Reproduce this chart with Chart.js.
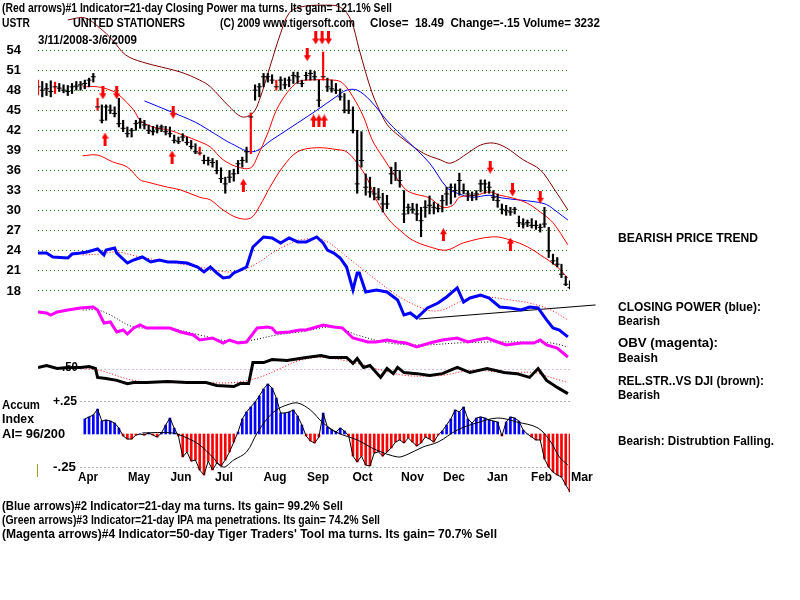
<!DOCTYPE html>
<html>
<head>
<meta charset="utf-8">
<script src="https://cdn.jsdelivr.net/npm/chart.js@4.4.0/dist/chart.umd.min.js"></script>
<style>
  html, body { margin: 0; padding: 0; background: #fff; }
  canvas { display: block; }
</style>
</head>
<body>
<canvas id="tiger" width="800" height="600"></canvas>
<script>
// ---- price bars (one bar every 2 trading days, 3/11/2008 .. 3/6/2009)
const BAR_STEP = 2;
const priceHigh = [49.5,49.3,49.0,49.4,49.2,49.0,48.8,48.7,49.0,49.3,49.3,49.5,49.8,50.5,46.8,45.8,45.8,45.8,45.5,46.8,
  43.5,42.5,42.3,43.5,43.8,43.5,42.8,42.6,42.8,42.8,42.6,42.5,41.3,41.0,41.5,41.0,40.5,40.0,39.5,38.3,
  38.0,37.8,37.5,36.4,35.0,36.0,36.2,37.5,38.0,39.5,44.6,48.8,49.0,50.5,50.5,50.3,49.5,50.0,49.8,50.0,
  50.7,50.7,49.5,50.7,51.0,50.8,49.5,53.7,49.8,49.5,49.0,48.2,47.5,46.5,45.5,42.0,41.8,35.5,35.0,33.5,
  33.3,32.6,32.3,36.5,37.2,36.0,33.0,31.0,31.1,31.0,30.5,31.5,32.2,31.3,31.0,32.3,33.5,34.0,34.0,35.6,
  34.0,33.0,32.8,33.0,34.6,34.6,34.3,33.0,32.5,31.0,30.8,30.5,30.5,29.2,28.8,28.6,28.8,28.5,28.0,30.5,
  27.5,23.5,23.0,22.0,20.2,19.5];
const priceLow = [47.3,47.0,47.2,47.0,47.5,47.8,47.6,47.2,47.5,48.0,48.0,48.2,48.5,49.2,45.0,43.1,43.5,44.5,44.0,42.5,
  41.8,41.0,41.0,42.0,42.3,42.2,41.5,41.3,41.6,41.8,41.3,41.0,40.1,40.0,40.4,39.8,39.2,38.5,38.3,37.0,
  36.8,36.5,35.5,34.2,32.6,34.2,34.4,35.5,36.5,37.2,38.5,46.5,47.0,48.5,49.2,49.0,48.0,48.0,48.2,48.5,
  49.0,49.0,48.5,49.5,49.5,49.5,45.5,49.5,47.8,47.7,47.5,46.5,44.6,44.5,41.6,32.6,36.5,32.3,32.0,31.6,
  31.6,29.8,30.3,34.0,34.5,33.5,28.2,29.5,29.6,28.5,26.1,29.0,29.5,29.5,29.8,29.8,30.8,31.0,32.0,32.3,
  32.5,31.5,31.5,31.6,32.8,32.6,32.6,31.5,30.5,29.5,29.3,29.3,29.5,27.6,27.4,27.6,27.4,27.2,26.8,27.5,
  23.0,22.0,21.6,20.0,18.8,18.3];
const priceClose = [48.5,48.0,48.2,47.8,48.5,48.3,48.0,47.8,48.5,48.6,48.8,49.0,49.5,50.0,45.5,43.5,45.5,45.0,44.5,43.0,
  42.3,41.5,42.0,43.0,43.2,42.8,42.0,41.8,42.2,42.5,41.8,41.5,40.5,40.3,41.0,40.2,39.6,38.8,38.6,37.5,
  37.5,37.2,36.0,34.8,34.0,35.0,35.5,37.0,37.5,38.8,44.0,48.0,48.5,50.0,50.0,49.5,48.5,49.5,48.8,49.5,
  50.2,50.0,49.0,50.2,50.5,50.0,46.5,50.0,48.5,48.2,48.0,47.0,45.0,45.0,42.0,34.0,37.5,33.5,32.8,32.5,
  32.0,31.0,31.0,35.5,36.0,34.5,29.5,30.5,30.2,29.5,28.5,30.5,30.8,30.5,30.3,31.5,32.5,33.5,33.0,34.5,
  33.0,32.5,32.3,32.5,34.0,34.0,33.5,32.0,31.5,30.2,30.0,29.8,30.2,28.2,28.0,28.2,27.8,27.8,27.5,28.0,
  24.0,22.5,22.0,20.5,19.0,18.49];
const redBarIdx = [0, 4, 14, 38, 50, 56, 67];

// ---- bands on the price panel
const maDays = [21,28,34,38,45,48,54,62,68,76,81,87,94,100,103,108,112,117,122,126,139,143,148,153,157,162,172,176,184,190,195,198,206,212,217,223,230,236,242,249];
const maVals = [48.5,48.5,48.0,47.3,45.0,43.5,42.5,42.0,41.3,40.3,39.5,37.6,36.5,36.4,38.0,41.6,45.0,47.6,49.2,49.5,49.5,49.1,47.0,44.0,40.6,38.0,33.4,32.6,31.9,30.5,30.8,32.0,32.3,32.8,32.3,31.9,31.1,29.8,28.2,24.9];
const upperDays = [14,22,29,35,41,49,67,76,81,90,96,101,104,109,114,118,123,134,142,147,151,157,162,165,172,181,189,194,202,208,214,220,228,236,242,249];
const upperVals = [58.5,58.8,57.3,55.5,53.3,52.2,50.7,49.5,48.5,45.5,44.0,44.6,46.5,51.5,56.5,59.5,60.4,60.7,60.4,58.5,54.0,47.6,44.0,42.5,40.6,38.6,37.6,37.1,38.6,39.8,40.1,39.4,37.6,36.1,33.5,30.1];
const lowerDays = [21,28,35,42,48,51,61,67,76,81,87,94,100,104,109,115,122,131,141,145,150,155,159,165,170,176,184,192,200,214,222,230,236,244,249];
const lowerVals = [38.2,38.3,37.3,36.5,34.6,34.3,33.5,33.1,32.0,31.6,30.1,28.9,28.9,30.6,33.5,36.5,38.8,39.4,39.1,38.8,37.1,34.6,31.6,28.6,27.1,25.6,24.6,24.1,25.2,26.1,25.6,24.6,23.4,21.6,19.9];
const ma50Days = [50,63,74,83,91,101,110,122,131,140,145,150,156,165,173,184,192,197,204,212,218,226,234,239,244,249];
const ma50Vals = [46.4,44.7,43.2,41.5,40.0,38.8,40.6,43.1,45.0,47.0,48.0,48.0,46.5,43.1,40.6,37.1,33.5,32.6,32.0,32.3,31.9,31.6,31.3,30.9,29.8,28.6];

// ---- signal arrows
const downArrowDays = [30.5,37,63.5,126.5,130.5,133.5,136.5,212.5,223,236];
const downArrowVals = [47.6,47.6,44.7,53.3,55.8,55.8,55.8,36.5,33.1,32.0];
const upArrowDays = [31.5,63,96.5,129.5,132,134.5,190.5,222];
const upArrowVals = [40.7,38.0,33.8,43.4,43.4,43.4,26.4,25.0];

// ---- closing power (drawn on the price scale)
const cpDays = [0,4,7,14,16,20,23,28,31,32,36,37,42,45,49,53,57,61,65,70,75,78,81,84,87,90,92,95,98,101,106,110,114,118,122,126,131,134,136,139,142,145,148,150,151,154,159,164,169,172,175,178,183,188,192,197,200,203,208,212,217,222,227,231,235,239,242,245,249];
const cpVals = [23.67,23.67,23.08,22.93,23.52,23.67,23.82,24.27,23.38,24.12,24.42,23.67,22.18,22.63,23.08,22.33,22.63,22.33,22.33,22.18,21.58,20.84,21.58,20.69,19.94,20.09,20.69,21.13,21.58,24.57,26.07,25.92,25.17,25.92,25.32,25.32,26.07,25.17,24.12,23.67,22.93,21.58,18.15,20.69,20.69,17.85,18.15,17.85,16.65,14.41,14.71,13.96,15.46,16.20,17.10,18.45,16.35,16.95,17.40,16.95,15.61,15.46,15.16,15.61,15.46,13.67,12.47,12.17,11.13];
const cpMaDays = [21,29,37,48,61,76,89,96,104,110,117,123,134,147,159,170,183,190,197,203,211,222,231,241,249];
const cpMaVals = [23.38,23.52,23.82,23.08,22.33,21.58,20.84,21.13,22.33,23.67,24.87,25.62,25.62,22.63,19.64,17.10,15.16,15.16,16.20,16.95,17.10,16.65,16.20,15.16,13.67];
const trendDays = [179, 262];
const trendVals = [13.81, 15.91];

// ---- OBV
const obvDays = [0,4,6,9,14,20,26,28,31,34,37,40,42,45,48,51,57,62,67,73,76,82,87,90,94,98,103,108,110,112,118,123,126,134,139,143,148,155,159,164,169,173,178,184,190,197,202,206,211,216,220,227,233,236,239,244,249];
const obvVals = [4.8,4.7,4.5,4.8,5.0,5.2,5.3,5.0,3.7,3.8,2.8,3.0,2.6,3.2,3.5,3.2,3.2,3.2,2.8,2.5,2.0,2.2,1.7,2.0,1.7,1.8,3.2,3.3,3.2,2.7,2.8,3.0,3.0,3.5,3.3,3.2,2.2,1.8,1.8,2.0,1.8,1.7,1.3,1.7,2.0,2.2,1.8,2.0,2.2,1.8,1.5,1.7,1.7,2.0,1.5,1.2,0.3];
const obvMaDays = [21,28,34,45,61,76,92,101,112,123,139,150,165,181,197,212,228,241,249];
const obvMaVals = [5.0,5.0,4.5,3.3,3.2,2.5,1.8,2.0,2.5,2.8,3.3,2.5,1.7,1.5,1.7,1.8,1.8,1.7,1.3];

// ---- relative strength vs DJI
const rsDays = [0,4,9,14,20,24,27,28,32,37,42,45,51,61,70,79,84,92,95,99,101,106,110,117,123,126,133,137,145,148,150,153,156,161,164,167,169,172,178,184,190,197,203,211,219,225,231,235,239,244,249];
const rsVals = [0.504,0.511,0.500,0.504,0.504,0.507,0.500,0.467,0.463,0.456,0.444,0.448,0.448,0.452,0.448,0.448,0.437,0.433,0.444,0.444,0.522,0.522,0.533,0.530,0.537,0.541,0.548,0.541,0.541,0.519,0.537,0.504,0.511,0.467,0.500,0.481,0.504,0.485,0.481,0.474,0.481,0.504,0.485,0.500,0.485,0.481,0.467,0.500,0.456,0.430,0.407];
const rsMaDays = [21,29,45,61,76,92,104,115,123,134,150,162,173,189,204,220,233,241,249];
const rsMaVals = [0.500,0.493,0.456,0.448,0.448,0.448,0.467,0.504,0.530,0.541,0.519,0.493,0.474,0.474,0.493,0.485,0.485,0.467,0.448];

// ---- accumulation index (one value every 2 days from day 22)
const ACC_START = 22;
const accVals = [0.114,0.129,0.144,0.189,0.098,0.106,0.098,0.083,0.045,-0.015,-0.038,-0.038,-0.008,0,-0.008,0.008,-0.008,-0.023,0.008,0.068,
  0.121,0.045,-0.015,-0.174,-0.136,-0.205,-0.197,-0.273,-0.311,-0.205,-0.273,-0.220,-0.242,-0.197,-0.136,-0.061,0.015,0.114,0.167,0.205,
  0.242,0.288,0.341,0.379,0.348,0.273,0.159,0.159,0.167,0.182,0.136,0.068,-0.015,-0.053,-0.068,-0.023,0.159,0.053,0.030,0.015,
  0.045,0.023,-0.015,-0.167,-0.212,-0.167,-0.235,-0.242,-0.144,-0.136,-0.167,-0.136,-0.106,-0.061,-0.045,-0.068,-0.030,-0.061,-0.091,-0.068,
  -0.023,-0.038,-0.061,-0.008,0.023,0.068,0.114,0.182,0.167,0.205,0.114,0.083,0.121,0.129,0.121,0.106,0.098,0.091,-0.015,0.091,
  0.129,0.121,0.098,0.030,0,-0.023,-0.045,-0.045,-0.189,-0.250,-0.288,-0.311,-0.326,-0.386,-0.439];
const accMaDays = [49,63,70,76,82,87,92,98,103,108,112,117,122,128,134,141,150,159,169,173,181,188,197,206,216,225,235,241,245,249];
const accMaVals = [0.008,0.008,-0.030,-0.083,-0.174,-0.250,-0.197,-0.136,0.008,0.121,0.182,0.220,0.235,0.182,0.083,0.008,-0.045,-0.121,-0.174,-0.159,-0.098,-0.061,0.030,0.083,0.121,0.091,0.045,-0.061,-0.174,-0.235];

// ---- axes labels
const priceTicks = [18,21,24,27,30,33,36,39,42,45,48,51,54];
const monthLabels = ['Apr','May','Jun','Jul','Aug','Sep','Oct','Nov','Dec','Jan','Feb','Mar'];
const monthDays = [23.5,47.5,67.2,87.4,111.4,131.6,152.5,176.0,195.5,215.9,236.6,255.6];
const monthWidths = [20,22,21,18,23,22,20,23,22,21,21,22];

const FONT = 'bold 13px "Liberation Sans", Arial, sans-serif';
const texts = [
  ['(Red arrows)#1 Indicator=21-day Closing Power ma turns. Its gain= 121.1% Sell', 2, 8, 390],
  ['USTR', 2, 23, 28],
  ['UNITED STATIONERS', 73, 23, 112],
  ['(C) 2009 www.tigersoft.com', 220, 23, 135],
  ['Close=  18.49  Change=-.15 Volume= 3232', 370, 23, 230],
  ['3/11/2008-3/6/2009', 38, 40, 99],
  ['BEARISH PRICE TREND', 618, 238, 140],
  ['CLOSING POWER (blue):', 618, 307, 143],
  ['Bearish', 618, 321, 42],
  ['OBV (magenta):', 618, 343, 100],
  ['Beaish', 618, 358, 40],
  ['REL.STR..VS DJI (brown):', 618, 381, 146],
  ['Bearish', 618, 395, 42],
  ['Bearish: Distrubtion Falling.', 618, 441, 156],
  ['Accum', 2, 405, 38],
  ['Index', 2, 419, 32],
  ['AI= 96/200', 2, 434, 63],
  ['(Blue arrows)#2 Indicator=21-day ma turns. Its gain= 99.2% Sell', 2, 506, 341],
  ['(Green arrows)#3 Indicator=21-day IPA ma penetrations. Its gain= 74.2% Sell', 2, 520, 378],
  ["(Magenta arrows)#4 Indicator=50-day Tiger Traders' Tool ma turns. Its gain= 70.7% Sell", 2, 534, 495]
];

function pts(days, vals) {
  return days.map((d, i) => ({ x: d, y: vals[i] }));
}

// draw text squeezed or stretched to an exact width
function fitText(ctx, s, x, y, w) {
  const w0 = ctx.measureText(s).width;
  ctx.save();
  ctx.translate(x, y);
  ctx.scale(w / w0, 1);
  ctx.fillText(s, 0, 0);
  ctx.restore();
}

function makeArrow(up) {
  const c = document.createElement('canvas');
  c.width = 7; c.height = 13;
  const g = c.getContext('2d');
  g.fillStyle = '#ff0000';
  g.beginPath();
  if (up) {
    g.moveTo(3.5, 0); g.lineTo(7, 6); g.lineTo(0, 6);
    g.closePath(); g.fill();
    g.fillRect(2, 5, 3, 8);
  } else {
    g.fillRect(2, 0, 3, 8);
    g.moveTo(0, 7); g.lineTo(7, 7); g.lineTo(3.5, 13);
    g.closePath(); g.fill();
  }
  return c;
}

function lineSet(data, color, width, axis, extra) {
  return Object.assign({
    type: 'line', data, yAxisID: axis, borderColor: color, borderWidth: width,
    pointRadius: 0, fill: false, tension: 0
  }, extra || {});
}

const tigerPlugin = {
  id: 'tigerText',
  beforeDatasetsDraw(chart) {
    const { ctx, chartArea, scales } = chart;
    const x0 = scales.x.getPixelForValue(20);
    ctx.save();
    ctx.setLineDash([1, 3]);
    ctx.lineWidth = 1;
    [[scales.acc, 0.25, '#606060'], [scales.acc, -0.25, '#606060'], [scales.rs, 0.5, '#b080b0']].forEach(([s, v, c]) => {
      const y = Math.round(s.getPixelForValue(v)) + 0.5;
      ctx.strokeStyle = c;
      ctx.beginPath(); ctx.moveTo(x0, y); ctx.lineTo(chartArea.right, y); ctx.stroke();
    });
    ctx.restore();
  },
  afterDraw(chart) {
    const { ctx, scales } = chart;
    ctx.save();
    ctx.fillStyle = '#000';
    ctx.font = FONT;
    ctx.textBaseline = 'middle';
    ctx.textAlign = 'left';
    texts.forEach(([s, x, y, w]) => fitText(ctx, s, x, y, w));
    fitText(ctx, '+.25', 53, scales.acc.getPixelForValue(0.25), 24);
    fitText(ctx, '-.25', 53, scales.acc.getPixelForValue(-0.25), 23);
    fitText(ctx, '.50', 62, scales.rs.getPixelForValue(0.5) - 1, 16);
    monthLabels.forEach((m, i) => {
      const w = monthWidths[i];
      fitText(ctx, m, scales.x.getPixelForValue(monthDays[i]) - w / 2, 477, w);
    });
    // small olive marker left of the accumulation panel
    ctx.strokeStyle = '#9a9a30';
    ctx.lineWidth = 1;
    const yTop = scales.acc.getPixelForValue(-0.25);
    ctx.beginPath(); ctx.moveTo(37.5, yTop - 3); ctx.lineTo(37.5, yTop + 10); ctx.stroke();
    ctx.restore();
  }
};

const arrowDown = makeArrow(false);
const arrowUp = makeArrow(true);

const datasets = [
  lineSet(pts(downArrowDays, downArrowVals), '#ff0000', 0, 'y', { showLine: false, pointRadius: 6, pointStyle: arrowDown }),
  lineSet(pts(upArrowDays, upArrowVals), '#ff0000', 0, 'y', { showLine: false, pointRadius: 6, pointStyle: arrowUp }),
  lineSet(priceClose.map((c, i) => ({ x: i * BAR_STEP, y: c })), '#000', 0, 'y',
    { showLine: false, pointRadius: 2.5, pointStyle: 'line', pointBorderWidth: 1, pointBorderColor: '#000' }),
  {
    type: 'bar', yAxisID: 'y', grouped: false, barThickness: 1.5, borderWidth: 0,
    data: priceHigh.map((h, i) => ({ x: i * BAR_STEP, y: [priceLow[i], h] })),
    backgroundColor: ctx => redBarIdx.includes(ctx.dataIndex) ? '#ff0000' : '#000000'
  },
  lineSet(pts(maDays, maVals), '#ff0000', 1, 'y', { tension: 0.35 }),
  lineSet(pts(ma50Days, ma50Vals), '#0000ff', 1, 'y', { tension: 0.35 }),
  lineSet(pts(upperDays, upperVals), '#800000', 1, 'y', { tension: 0.35 }),
  lineSet(pts(lowerDays, lowerVals), '#ff0000', 1, 'y', { tension: 0.35 }),
  lineSet(pts(cpDays, cpVals), '#0000ff', 3, 'y'),
  lineSet(pts(cpMaDays, cpMaVals), '#ff0000', 1, 'y', { borderDash: [1, 2], tension: 0.35 }),
  lineSet(pts(trendDays, trendVals), '#000000', 1, 'y', { clip: false }),
  lineSet(pts(obvDays, obvVals), '#ff00ff', 3, 'obv'),
  lineSet(pts(obvMaDays, obvMaVals), '#000000', 1, 'obv', { borderDash: [1, 2], tension: 0.35 }),
  lineSet(pts(rsDays, rsVals), '#000000', 3, 'rs'),
  lineSet(pts(rsMaDays, rsMaVals), '#ff0000', 1, 'rs', { borderDash: [1, 2], tension: 0.35 }),
  lineSet(accVals.map((v, i) => ({ x: ACC_START + i * BAR_STEP, y: v })), '#000000', 1, 'acc'),
  lineSet(pts(accMaDays, accMaVals), '#000000', 1, 'acc', { tension: 0.35 }),
  {
    type: 'bar', yAxisID: 'acc', grouped: false, barThickness: 2, borderWidth: 0,
    data: accVals.map((v, i) => ({ x: ACC_START + i * BAR_STEP, y: v })),
    backgroundColor: ctx => (ctx.raw && ctx.raw.y < 0) ? '#ff0000' : '#0000ff'
  }
];

new Chart(document.getElementById('tiger'), {
  type: 'line',
  data: { datasets },
  options: {
    responsive: false,
    animation: false,
    devicePixelRatio: 1,
    events: [],
    layout: { autoPadding: false, padding: { left: 0, top: 0, right: 230, bottom: 105 } },
    plugins: { legend: { display: false }, tooltip: { enabled: false } },
    scales: {
      x: { type: 'linear', min: 0, max: 250, display: false, offset: false },
      y: {
        type: 'linear', position: 'left', min: -12.48, max: 61.47,
        afterBuildTicks: s => { s.ticks = priceTicks.map(v => ({ value: v })); },
        afterFit: s => { s.width = 38; s.paddingTop = 0; s.paddingBottom = 0; },
        ticks: { color: '#000', padding: 17, font: { family: '"Liberation Sans", Arial, sans-serif', size: 13, weight: 'bold' } },
        grid: { color: '#008000', drawTicks: false, lineWidth: 1 },
        border: { display: false, dash: [1, 3] }
      },
      obv: { axis: 'y', position: 'right', display: false, min: -13.5, max: 36 },
      rs: { axis: 'y', position: 'right', display: false, min: 0.0315, max: 1.8648 },
      acc: { axis: 'y', position: 'right', display: false, min: -0.4621, max: 3.2879 }
    }
  },
  plugins: [tigerPlugin]
});
</script>
</body>
</html>
